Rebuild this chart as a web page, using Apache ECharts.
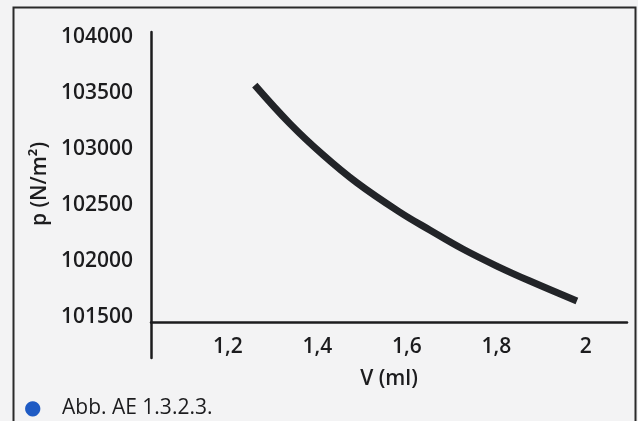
<!DOCTYPE html>
<html>
<head>
<meta charset="utf-8">
<script src="https://cdn.jsdelivr.net/npm/echarts@6/dist/echarts.min.js"></script>
<style>
html,body{margin:0;padding:0;background:#f3f3f4;}
#c{width:638px;height:421px;}
</style>
</head>
<body>
<div id="c"></div>
<script>
// Data
const volume = [1.26, 1.339, 1.412, 1.488, 1.584, 1.651, 1.725, 1.801, 1.875, 1.98];
const pressure = [103571, 103225, 102950, 102700, 102437, 102277, 102107, 101955, 101821, 101643];
const xTicks = [1.2, 1.4, 1.6, 1.8, 2];
const yTicks = [101500, 102000, 102500, 103000, 103500, 104000];
const xName = 'V (ml)';
const yName = 'p (N/m²)';
const caption = 'Abb. AE 1.3.2.3.';

const chart = echarts.init(document.getElementById('c'), null, {renderer: 'canvas'});
const font = '"Open Sans", "Noto Sans", sans-serif';
const ink = '#1c1c1e';
const w = 600;
chart.setOption({
  backgroundColor: '#f3f3f4',
  animation: false,
  title: {
    text: '{dot|●}{t|' + caption + '}',
    left: 19, top: 393,
    textStyle: {
      fontWeight: 'normal',
      rich: {
        dot: {color: '#1f5bc4', fontSize: 20, fontFamily: '"DejaVu Sans", sans-serif', fontWeight: 'normal', width: 38, verticalAlign: 'middle'},
        t: {color: ink, fontSize: 21, fontFamily: font, fontWeight: 'normal', verticalAlign: 'middle'}
      }
    }
  },
  graphic: [
    {type: 'polyline', shape: {points: [[13.5, 430], [13.5, 7.5], [635.5, 7.5], [635.5, 430]]},
     style: {stroke: '#2a2a2a', lineWidth: 2, fill: null}, silent: true}
  ],
  grid: {left: 151, right: 11, top: 32, bottom: 63, containLabel: false},
  xAxis: {
    type: 'value', min: 1.028, max: 2.092,
    offset: -36,
    name: xName, nameLocation: 'middle', nameGap: 47,
    nameTextStyle: {color: ink, fontSize: 21, fontFamily: font, fontWeight: w},
    axisLine: {show: true, lineStyle: {color: ink, width: 2.5}},
    axisTick: {show: false},
    splitLine: {show: false},
    axisLabel: {
      customValues: xTicks,
      color: ink, fontSize: 21, fontFamily: font, fontWeight: w, margin: 15,
      formatter: v => String(+v.toFixed(1)).replace('.', ',')
    }
  },
  yAxis: {
    type: 'value', min: 101134, max: 104045,
    name: yName, nameLocation: 'middle', nameGap: 99, nameRotate: 90,
    nameTextStyle: {color: ink, fontSize: 21, fontFamily: font, fontWeight: w, padding: [0, 0, 0, 22]},
    axisLine: {show: true, lineStyle: {color: ink, width: 2.5}},
    axisTick: {show: false},
    splitLine: {show: false},
    axisLabel: {
      customValues: yTicks,
      color: ink, fontSize: 21, fontFamily: font, fontWeight: w, margin: 18,
      formatter: v => String(Math.round(v))
    }
  },
  series: [{
    type: 'line',
    data: volume.map((v, i) => [v, pressure[i]]),
    smooth: 0.4,
    showSymbol: false,
    lineStyle: {color: '#222428', width: 7, cap: 'butt'}
  }]
});
</script>
</body>
</html>
